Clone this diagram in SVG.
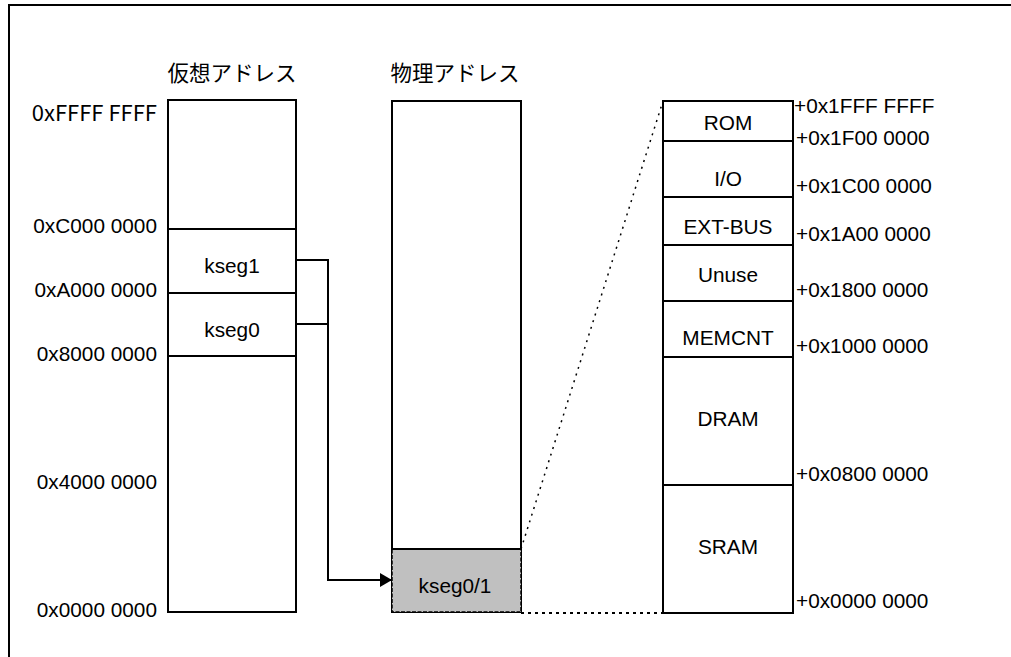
<svg xmlns="http://www.w3.org/2000/svg" width="1011" height="657" viewBox="0 0 1011 657">
<style>
.t{font-family:"Liberation Sans",Arial,sans-serif;font-size:20.8px;fill:#000}
.jp{font-family:"Noto Sans CJK JP",sans-serif;font-size:21.5px;fill:#000}
.m{text-anchor:middle}
.e{text-anchor:end}
.box{fill:#fff;stroke:#000;stroke-width:2}
.ln{stroke:#000;stroke-width:2;fill:none}
.dot{stroke:#000;stroke-width:1.5;fill:none;stroke-dasharray:2 5}
</style>
<defs>
<marker id="ah" markerWidth="12" markerHeight="14" refX="12" refY="7" orient="auto" markerUnits="userSpaceOnUse">
<path d="M0,0 L12,7 L0,14 Z" fill="#000"/>
</marker>
</defs>
<rect x="9" y="5" width="1010" height="670" fill="#fff" stroke="#000" stroke-width="2"/>

<g id="virtual">
<text class="jp m" x="232" y="81">仮想アドレス</text>
<rect class="box" x="168" y="100" width="128" height="512"/>
<line class="ln" x1="168" y1="229" x2="296" y2="229"/>
<line class="ln" x1="168" y1="293" x2="296" y2="293"/>
<line class="ln" x1="168" y1="356" x2="296" y2="356"/>
<text class="t m" x="232" y="273">kseg1</text>
<text class="t m" x="232" y="337">kseg0</text>
<text class="jp e" x="157" y="121" style="font-size:22px">0xFFFF FFFF</text>
<text class="t e" x="157" y="233">0xC000 0000</text>
<text class="t e" x="157" y="297">0xA000 0000</text>
<text class="t e" x="157" y="361">0x8000 0000</text>
<text class="t e" x="157" y="489">0x4000 0000</text>
<text class="t e" x="157" y="617">0x0000 0000</text>
</g>

<g id="physical">
<text class="jp m" x="455" y="81">物理アドレス</text>
<rect class="box" x="392" y="101" width="129" height="511"/>
<rect x="392" y="549" width="129" height="63" fill="#c0c0c0" stroke="#000" stroke-width="1.5" stroke-dasharray="4 1.5"/>
<line class="ln" x1="392" y1="549" x2="521" y2="549"/>
<text class="t m" x="455" y="593">kseg0/1</text>
</g>

<g id="map">
<rect class="box" x="663" y="101" width="130" height="512"/>
<line class="ln" x1="663" y1="141" x2="793" y2="141"/>
<line class="ln" x1="663" y1="197" x2="793" y2="197"/>
<line class="ln" x1="663" y1="245" x2="793" y2="245"/>
<line class="ln" x1="663" y1="301" x2="793" y2="301"/>
<line class="ln" x1="663" y1="357" x2="793" y2="357"/>
<line class="ln" x1="663" y1="485" x2="793" y2="485"/>
<text class="t m" x="728" y="130">ROM</text>
<text class="t m" x="728" y="186">I/O</text>
<text class="t m" x="728" y="234">EXT-BUS</text>
<text class="t m" x="728" y="282">Unuse</text>
<text class="t m" x="728" y="345">MEMCNT</text>
<text class="t m" x="728" y="426">DRAM</text>
<text class="t m" x="728" y="554">SRAM</text>
<text class="t" x="794" y="113">+0x1FFF FFFF</text>
<text class="t" x="796" y="145">+0x1F00 0000</text>
<text class="t" x="796" y="193">+0x1C00 0000</text>
<text class="t" x="796" y="241">+0x1A00 0000</text>
<text class="t" x="796" y="297">+0x1800 0000</text>
<text class="t" x="796" y="353">+0x1000 0000</text>
<text class="t" x="796" y="481">+0x0800 0000</text>
<text class="t" x="796" y="608">+0x0000 0000</text>
</g>

<g id="connectors">
<polyline class="ln" points="296,260 328,260 328,580 392,580" marker-end="url(#ah)"/>
<line class="ln" x1="296" y1="324" x2="328" y2="324"/>
<line class="dot" x1="521" y1="549" x2="663" y2="101"/>
<line class="ln" x1="521" y1="613" x2="663" y2="613" stroke-dasharray="3 4"/>
</g>
</svg>
